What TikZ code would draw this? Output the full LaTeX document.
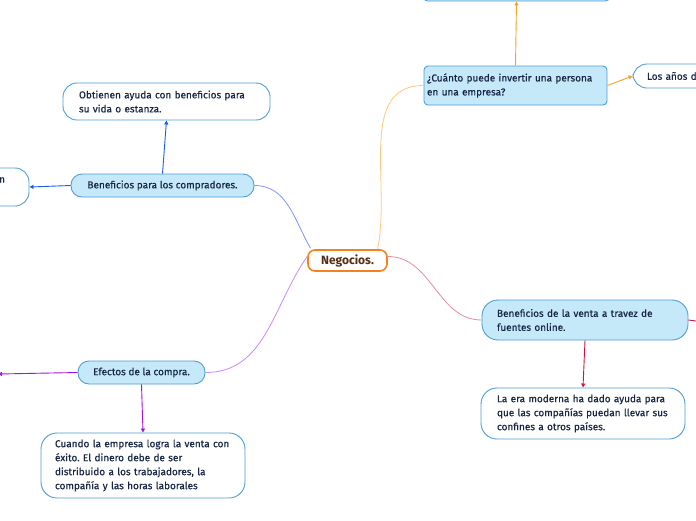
\documentclass[tikz,border=0pt]{standalone}
\usepackage{fontspec}
\setmainfont{Fira Sans}[UprightFeatures={FakeBold=0.45}]
\usetikzlibrary{arrows.meta,positioning,calc}
\definecolor{topicfill}{RGB}{198,233,250}
\definecolor{topicline}{RGB}{78,158,218}
\definecolor{inknavy}{RGB}{24,38,70}
\definecolor{rootorange}{RGB}{245,130,32}
\definecolor{rootbrown}{RGB}{84,46,20}
\definecolor{orsoft}{RGB}{255,200,130}
\definecolor{orhard}{RGB}{250,160,40}
\definecolor{bluesoft}{RGB}{125,150,250}
\definecolor{bluehard}{RGB}{30,90,250}
\definecolor{purpsoft}{RGB}{205,135,250}
\definecolor{purphard}{RGB}{160,20,230}
\definecolor{redsoft}{RGB}{232,140,160}
\definecolor{redhard}{RGB}{210,20,60}
\frenchspacing

\begin{document}
\begin{tikzpicture}[x=1pt, y=-1pt,
  every node/.style={font=\fontsize{10}{14}\selectfont, text=inknavy},
  root/.style={draw=rootorange, line width=1.6pt, fill=white, rounded corners=7pt,
    minimum width=79pt, minimum height=21pt, inner sep=0pt,
    font=\fontsize{12}{14}\selectfont\bfseries, text=rootbrown},
  topic/.style={draw=topicline, line width=0.9pt, fill=topicfill, rounded corners=11pt,
    inner sep=0pt, align=center},
  note/.style={draw=topicline, line width=0.9pt, fill=white, rounded corners=14pt,
    inner ysep=0pt, align=left},
  branch/.style={line width=0.8pt},
  arrow/.style={-{Triangle[length=4pt,width=4pt]}, line width=0.9pt}
]
\useasboundingbox[fill=white] (0,0) rectangle (696,520);

\node[root] (neg) at (347.5,260.5) {Negocios.};

\node[topic, rounded corners=4pt, minimum width=183pt, minimum height=39pt,
  text width=177pt, align=left] (cuanto) at (515.5,85.5)
  {¿Cuánto puede invertir una persona\\ en una empresa?};
\node[topic, rounded corners=4pt, minimum width=186pt, minimum height=44pt] (arriba) at (516.5,-21) {};
\node[note, text width=70pt, inner xsep=14pt, minimum height=24pt] (anios) at (682,76) {Los años de};

\node[topic, minimum width=183pt, minimum height=23pt] (compr) at (162.5,185.5)
  {Beneficios para los compradores.};
\node[note, text width=175pt, inner xsep=16pt, minimum height=37pt] (ayuda) at (166.5,101.5)
  {Obtienen ayuda con beneficios para\\ su vida o estanza.};
\node[note, text width=106pt, inner xsep=24pt, minimum height=38pt, align=right] (izq) at (-48,187)
  {n\\ \mbox{}};

\node[topic, minimum width=127pt, minimum height=23pt] (efect) at (141.5,372.5)
  {Efectos de la compra.};
\node[note, text width=176pt, inner xsep=14pt, minimum height=65pt, rounded corners=16pt] (cuando) at (143,465.5)
  {Cuando la empresa logra la venta con\\ éxito. El dinero debe de ser\\ distribuido a los trabajadores, la\\ compañía y las horas laborales};
\coordinate (izqb) at (-2,374);

\node[topic, minimum width=206pt, minimum height=40pt, text width=176pt, align=left,
  rounded corners=16pt] (venta) at (585,320)
  {Beneficios de la venta a travez de\\ fuentes online.};
\node[note, text width=172pt, inner xsep=16pt, minimum height=51pt, rounded corners=16pt] (era) at (583,413.5)
  {La era moderna ha dado ayuda para\\ que las compañías puedan llevar sus\\ confines a otros países.};
\coordinate (derb) at (725,325);

\draw[branch, orsoft] ([xshift=30pt]neg.north) to[out=78, in=180] (cuanto.west);
\draw[branch, bluesoft] ([xshift=-37pt,yshift=1pt]neg.north) to[out=120, in=0] (compr.east);
\draw[branch, purpsoft] ([yshift=4pt]neg.west) to[out=235, in=0] (efect.east);
\draw[branch, redsoft] ([yshift=4pt]neg.east) to[out=0, in=180] (venta.west);

\draw[arrow, orhard] (cuanto.north) -- (arriba.south);
\draw[arrow, orhard] (cuanto.east) -- (anios.west);
\draw[arrow, bluehard] (compr.north) -- (ayuda.south);
\draw[arrow, bluehard] (compr.west) -- (izq.east);
\draw[arrow, purphard] (efect.south) -- (cuando.north);
\draw[arrow, purphard] (efect.west) -- (izqb);
\draw[arrow, redhard] (venta.south) -- (era.north);
\draw[arrow, redhard] (venta.east) -- (derb);
\end{tikzpicture}
\end{document}
